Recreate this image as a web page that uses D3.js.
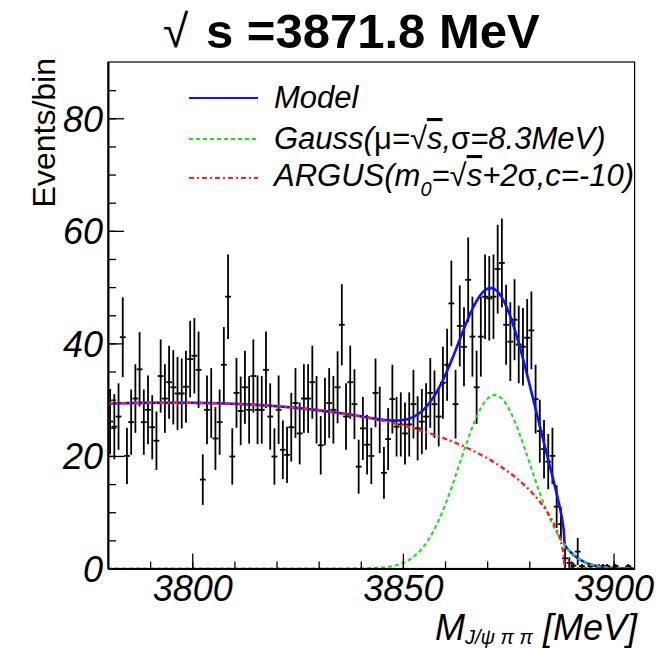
<!DOCTYPE html>
<html>
<head>
<meta charset="utf-8">
<script src="https://cdn.jsdelivr.net/npm/d3@7"></script>
<style>
  body { margin: 0; background: #fff; }
  svg { display: block; }
  text { font-family: "Liberation Sans", Arial, Helvetica, sans-serif; }
</style>
</head>
<body>
<svg id="chart" width="664" height="649"></svg>
<script>
// Binning of the J/psi pi pi invariant mass histogram (1 MeV bins)
const binLow = 3780;
const binWidth = 1;

// Events per bin, starting at 3780 MeV
const counts = [
  26.1, 25.2, 27.0, 41.1, 20.0, 26.0, 30.2, 35.4, 26.0, 28.2,
  25.1, 22.7, 34.2, 30.2, 33.1, 32.2, 31.1, 31.1, 32.3, 37.2,
  37.8, 35.3, 15.8, 28.2, 29.4, 23.1, 26.0, 36.2, 48.3, 19.9,
  31.2, 28.0, 32.2, 28.2, 34.2, 28.2, 28.2, 35.3, 27.0, 19.9,
  28.2, 21.1, 20.2, 25.1, 29.4, 24.0, 30.2, 30.2, 33.1, 28.2,
  21.9, 27.9, 29.4, 28.2, 32.2, 43.3, 27.0, 33.1, 29.2, 18.1,
  24.9, 22.0, 20.0, 31.2, 26.4, 17.0, 23.0, 30.1, 25.2, 25.6,
  24.0, 25.6, 29.2, 24.9, 26.1, 27.0, 31.2, 29.2, 27.0, 33.0,
  36.2, 47.1, 29.2, 43.1, 39.4, 51.3, 41.2, 32.2, 41.2, 48.3,
  48.0, 48.3, 53.2, 54.3, 43.3, 40.3, 44.2, 39.8, 39.4, 41.0,
  42.3, 30.1, 24.4, 21.2, 19.0, 20.0, 11.0, 7.9, 1.8, 1.0,
  0.5, 3.0, 0.4, 0, 0.4, 0, 0.4, 0.4, 0.4, 0,
  0.4, 0, 0, 0.4, 0
];

// Vertical error half-lengths per bin
const errors = [
  5.8, 5.8, 5.9, 7.1, 5.0, 5.8, 6.1, 6.6, 5.8, 6.1,
  5.7, 5.2, 6.5, 6.1, 6.5, 6.6, 6.5, 6.2, 6.4, 6.8,
  6.7, 6.8, 4.5, 6.1, 6.2, 5.6, 5.8, 6.7, 7.5, 5.0,
  6.2, 6.1, 6.5, 6.0, 6.5, 6.1, 6.0, 6.8, 5.9, 5.0,
  6.1, 5.2, 5.0, 6.1, 6.2, 5.5, 6.1, 6.1, 6.5, 6.0,
  5.2, 6.0, 6.2, 6.0, 6.4, 7.2, 5.9, 6.5, 6.2, 4.8,
  5.6, 5.3, 5.0, 6.1, 5.9, 4.6, 5.5, 6.1, 5.3, 5.7,
  5.5, 5.7, 6.1, 5.7, 5.8, 5.9, 6.2, 6.0, 5.3, 6.4,
  6.4, 7.6, 6.1, 7.2, 7.0, 7.5, 7.1, 6.5, 7.1, 7.5,
  7.5, 7.5, 7.9, 7.9, 7.1, 7.0, 7.2, 6.9, 6.9, 6.9,
  6.9, 6.1, 5.6, 5.2, 4.9, 5.0, 3.8, 3.0, 1.8, 1.0,
  0.5, 2.4, 0.4, 0, 0.4, 0, 0.4, 0.4, 0.4, 0,
  0.4, 0, 0, 0.4, 0
];

// Axis ticks
const xMajorTicks = [3800, 3850, 3900];
const xMinorTicks = [3790, 3800, 3810, 3820, 3830, 3840, 3850, 3860, 3870, 3880, 3890, 3900];
const yMajorTicks = [0, 20, 40, 60, 80];
const yMinorTicks = [5, 10, 15, 20, 25, 30, 35, 40, 45, 50, 55, 60, 65, 70, 75, 80, 85];

// Fit model: Gauss signal + ARGUS background
const sqrtS = 3871.8;
const sigma = 8.3;
const argusC = -10;
const argusM0 = sqrtS + 2 * sigma;
const gaussPeak = 30.8;       // signal height at the peak
const argusAtLow = 29.3;      // background height at the low edge of the range

const plot = { left: 108, right: 634.6, top: 62, bottom: 568.5 };

const svg = d3.select("#chart");

const x = d3.scaleLinear().domain([3780, 3905]).range([plot.left, plot.right]);
const y = d3.scaleLinear().domain([0, 90]).range([plot.bottom, plot.top]);

function argusShape(m) {
  const r = 1 - (m / argusM0) * (m / argusM0);
  if (r <= 0) return 0;
  return m * Math.sqrt(r) * Math.exp(argusC * r);
}
const argusScale = argusAtLow / argusShape(binLow);
const argus = m => argusScale * argusShape(m);
const gauss = m => gaussPeak * Math.exp(-0.5 * ((m - sqrtS) / sigma) ** 2);
const model = m => argus(m) + gauss(m);

// clip region for the plot area
svg.append("defs").append("clipPath").attr("id", "plotclip")
  .append("rect")
  .attr("x", plot.left).attr("y", plot.top)
  .attr("width", plot.right - plot.left).attr("height", plot.bottom - plot.top);

// ---- data points with error bars ----
const pts = counts.map((v, i) => ({
  lo: binLow + i * binWidth,
  hi: binLow + (i + 1) * binWidth,
  c: binLow + (i + 0.5) * binWidth,
  v: v,
  e: errors[i]
}));

const gData = svg.append("g").attr("clip-path", "url(#plotclip)");
const shown = pts.filter(d => d.v > 0);
gData.selectAll("line.ev").data(shown).join("line")
  .attr("class", "ev")
  .attr("x1", d => x(d.c)).attr("x2", d => x(d.c))
  .attr("y1", d => y(d.v + d.e)).attr("y2", d => y(Math.max(0, d.v - d.e)))
  .attr("stroke", "#000").attr("stroke-width", 1.8);
gData.selectAll("line.eh").data(shown).join("line")
  .attr("class", "eh")
  .attr("x1", d => x(d.lo) - 0.8).attr("x2", d => x(d.hi) + 0.8)
  .attr("y1", d => y(d.v)).attr("y2", d => y(d.v))
  .attr("stroke", "#000").attr("stroke-width", 1.8);

// ---- fitted curves ----
const grid = d3.range(3780, 3905.01, 0.2);
const lineFor = f => d3.line().x(m => x(m)).y(m => y(f(m)))(grid);

const gCurves = svg.append("g").attr("clip-path", "url(#plotclip)");
gCurves.append("path").attr("d", lineFor(model))
  .attr("fill", "none").attr("stroke", "#1010ff").attr("stroke-width", 2.6);
gCurves.append("path").attr("d", lineFor(gauss))
  .attr("fill", "none").attr("stroke", "#22dd22").attr("stroke-width", 2.2)
  .attr("stroke-dasharray", "4,3");
gCurves.append("path").attr("d", lineFor(argus))
  .attr("fill", "none").attr("stroke", "#ff2020").attr("stroke-width", 2.4)
  .attr("stroke-dasharray", "5,3,2,3");

// ---- frame ----
svg.append("rect")
  .attr("x", plot.left).attr("y", plot.top)
  .attr("width", plot.right - plot.left).attr("height", plot.bottom - plot.top)
  .attr("fill", "none").attr("stroke", "#000").attr("stroke-width", 1.2);

// ---- axes ----
const tickFont = "italic 36px 'Liberation Sans', Arial, sans-serif";

const xMinor = d3.axisBottom(x).tickValues(xMinorTicks).tickSizeInner(-7).tickSizeOuter(0).tickFormat("");
const xMajor = d3.axisBottom(x).tickValues(xMajorTicks).tickSizeInner(-15).tickSizeOuter(0)
  .tickPadding(7).tickFormat(d3.format("d"));
svg.append("g").attr("transform", `translate(0,${plot.bottom})`).call(xMinor)
  .call(g => g.select(".domain").remove())
  .selectAll("line").attr("stroke-width", 1.3);
const gx = svg.append("g").attr("transform", `translate(0,${plot.bottom})`).call(xMajor);
gx.select(".domain").attr("stroke-width", 2);
gx.selectAll("line").attr("stroke-width", 1.3);
gx.selectAll("text").style("font", tickFont).attr("fill", "#000").attr("dy", "0.7em");

const yMinor = d3.axisLeft(y).tickValues(yMinorTicks).tickSizeInner(-8).tickSizeOuter(0).tickFormat("");
const yMajor = d3.axisLeft(y).tickValues(yMajorTicks).tickSizeInner(-16).tickSizeOuter(0)
  .tickPadding(5).tickFormat(d3.format("d"));
svg.append("g").attr("transform", `translate(${plot.left},0)`).call(yMinor)
  .call(g => g.select(".domain").remove())
  .selectAll("line").attr("stroke-width", 1.3);
const gy = svg.append("g").attr("transform", `translate(${plot.left},0)`).call(yMajor);
gy.select(".domain").attr("stroke-width", 2);
gy.selectAll("line").attr("stroke-width", 1.3);
gy.selectAll("text").style("font", tickFont).attr("fill", "#000").attr("dy", "0.36em");

// ---- axis titles ----
const xt = svg.append("text").attr("x", 637).attr("y", 640)
  .attr("text-anchor", "end")
  .style("font", "italic 36px 'Liberation Sans', Arial, sans-serif");
xt.append("tspan").text("M");
xt.append("tspan").attr("dy", 4).style("font-size", "20px").text("J/\u03C8 \u03C0 \u03C0");
xt.append("tspan").attr("dy", -4).text(" [MeV]");

svg.append("text")
  .attr("transform", "translate(55,58) rotate(-90)")
  .attr("text-anchor", "end")
  .style("font", "32px 'Liberation Sans', Arial, sans-serif")
  .text("Events/bin");

// ---- title ----
svg.append("text").attr("x", 163).attr("y", 47)
  .style("font", "46px 'Liberation Sans', Arial, sans-serif").text("\u221A");
svg.append("text").attr("x", 206).attr("y", 48)
  .style("font", "bold 49px 'Liberation Sans', Arial, sans-serif")
  .text("s =3871.8 MeV");

// ---- legend ----
const legFont = "italic 31px 'Liberation Sans', Arial, sans-serif";
const legend = [
  { y: 98, color: "#1010ff", dash: null, w: 1.8 },
  { y: 139, color: "#22dd22", dash: "4,3", w: 1.8 },
  { y: 178, color: "#ff2020", dash: "5,3,2,3", w: 1.8 }
];
svg.selectAll("line.leg").data(legend).join("line")
  .attr("class", "leg")
  .attr("x1", 189).attr("x2", 258)
  .attr("y1", d => d.y).attr("y2", d => d.y)
  .attr("stroke", d => d.color).attr("stroke-width", d => d.w)
  .attr("stroke-dasharray", d => d.dash);

svg.append("text").attr("x", 274).attr("y", 108).style("font", legFont).text("Model");

const t2 = svg.append("text").attr("x", 274).attr("y", 149).style("font", legFont);
t2.append("tspan").text("Gauss(");
t2.append("tspan").style("font-style", "normal").text("\u03BC");
t2.append("tspan").text("=\u221A");
t2.append("tspan").style("text-decoration", "overline").text("s");
t2.append("tspan").text(",");
t2.append("tspan").style("font-style", "normal").text("\u03C3");
t2.append("tspan").text("=8.3MeV)");

const t3 = svg.append("text").attr("x", 274).attr("y", 186).style("font", legFont);
t3.append("tspan").text("ARGUS(m");
t3.append("tspan").attr("dy", 10).style("font-size", "20px").text("0");
t3.append("tspan").attr("dy", -10).text("=\u221A");
t3.append("tspan").style("text-decoration", "overline").text("s");
t3.append("tspan").text("+2");
t3.append("tspan").style("font-style", "normal").text("\u03C3");
t3.append("tspan").text(",c=-10)");
</script>
</body>
</html>
